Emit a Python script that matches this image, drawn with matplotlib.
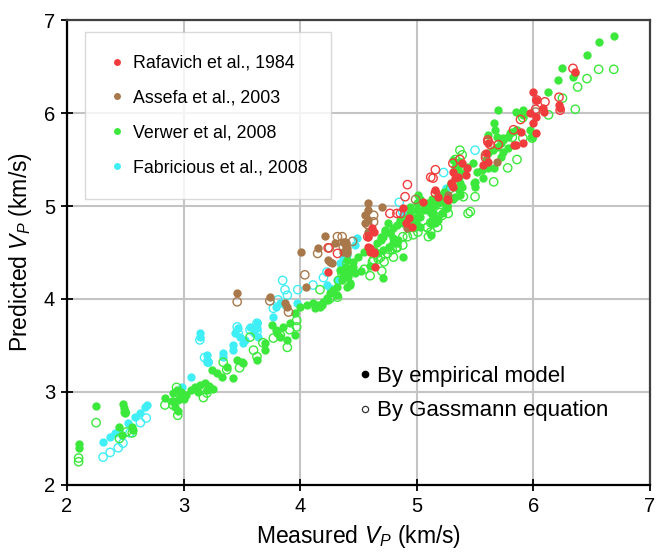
import matplotlib
matplotlib.use("Agg")
import matplotlib.pyplot as plt
from matplotlib.lines import Line2D

plt.rcParams['font.family'] = ['Liberation Sans', 'DejaVu Sans']
plt.rcParams['mathtext.fontset'] = 'custom'
plt.rcParams['mathtext.rm'] = 'Liberation Sans'
plt.rcParams['mathtext.it'] = 'Liberation Sans:italic'

# ---------------- data (Measured Vp, Predicted Vp) ----------------
# Verwer et al, 2008
verwer_emp_x = [2.25, 2.10, 2.10, 2.48, 2.49, 2.50, 2.45, 2.47, 2.56, 2.57, 2.84, 2.91, 2.94, 2.95, 2.97, 2.93, 2.95,
                2.98, 3.00, 3.02, 2.90, 3.06, 3.10, 3.14, 3.18, 3.22, 3.25, 3.12, 3.20,
                3.24, 3.29, 3.33, 3.37, 3.42, 3.46, 3.50, 3.51,
                3.63, 3.70, 3.70, 3.76, 3.79, 3.80, 3.83, 3.85, 3.89, 3.91, 3.96, 3.96,
                4.00, 4.06, 4.11, 4.15, 4.17, 4.23, 4.26, 4.28, 4.32, 4.13, 4.19, 4.20, 4.24, 4.32,
                4.34, 4.37, 4.41, 4.45, 4.43, 4.40, 4.40, 4.39, 4.41, 4.43, 4.36,
                4.45, 4.50, 4.55, 4.60, 4.52, 4.47,
                4.66, 4.69, 4.71, 4.67, 4.71, 4.76, 4.80, 4.84, 4.88, 4.71,
                4.75, 4.73, 4.77, 4.80, 4.83, 4.86, 4.88, 4.92, 4.94, 4.96, 4.99, 5.00, 5.05, 5.06, 5.10, 5.12, 5.16, 5.18,
                4.94, 5.00, 5.03, 5.09, 5.13, 5.18, 5.20, 5.14, 5.03, 4.97, 5.23, 5.16, 5.12,
                5.01, 5.03, 5.06, 5.09, 5.12, 5.14, 5.18, 5.20, 5.00, 4.97, 4.99, 5.12, 5.18, 5.22, 5.25, 5.26,
                4.73, 4.77, 4.80, 4.83, 4.76, 4.63, 4.69,
                5.31, 5.33, 5.36, 5.29,
                5.36, 5.37, 5.39, 5.40, 5.36, 5.37, 5.33, 5.31, 5.35, 5.36, 5.43, 5.48, 5.50, 5.52, 5.56, 5.59, 5.61,
                5.65, 5.69, 5.72, 5.74, 5.78, 5.80, 5.85, 5.57, 5.61, 5.66, 5.72, 5.74, 5.78, 5.83, 5.49, 5.50,
                6.69, 6.56, 6.46, 6.25, 6.21, 6.13, 5.70, 5.85, 5.91, 5.91, 5.66, 5.67, 5.61, 5.69, 5.74, 5.82, 5.86,
                5.97, 5.99, 6.36, 6.34]
verwer_emp_y = [2.85, 2.44, 2.40, 2.87, 2.83, 2.77, 2.62, 2.54, 2.62, 2.59, 2.94, 2.99, 3.02, 2.91, 2.95, 2.84, 2.80,
                3.00, 2.92, 2.97, 2.90, 3.02, 3.05, 3.08, 3.10, 3.06, 3.03, 3.00, 3.02,
                3.24, 3.20, 3.16, 3.27, 3.15, 3.34, 3.32, 3.31,
                3.34, 3.53, 3.45, 3.72, 3.67, 3.63, 3.59, 3.70, 3.56, 3.74, 3.61, 3.85,
                3.91, 3.94, 3.96, 3.94, 3.91, 4.01, 4.06, 4.10, 4.13, 3.90, 3.94, 3.97, 3.99, 4.04,
                4.31, 4.28, 4.28, 4.34, 4.17, 4.13, 4.42, 4.34, 4.24, 4.15, 4.20,
                4.40, 4.45, 4.50, 4.35, 4.30, 4.28,
                4.60, 4.63, 4.67, 4.49, 4.53, 4.56, 4.60, 4.63, 4.45, 4.23,
                4.82, 4.72, 4.71, 4.76, 4.80, 4.85, 4.82, 4.87, 4.92, 4.85, 4.82, 4.96, 4.96, 4.99, 5.03, 4.98, 5.01, 5.04,
                4.99, 5.03, 4.88, 4.96, 5.07, 5.12, 5.04, 4.93, 4.77, 4.82, 5.15, 4.83, 4.69,
                5.12, 5.07, 5.03, 4.98, 4.93, 4.88, 5.03, 5.10, 4.88, 4.83, 4.77, 4.83, 4.85, 4.93, 4.98, 5.01,
                4.74, 4.71, 4.66, 4.60, 4.56, 4.53, 4.67,
                5.50, 5.42, 5.35, 5.25,
                5.31, 5.25, 5.20, 5.36, 5.17, 5.12, 5.10, 5.07, 5.42, 5.47, 5.42, 5.46, 5.26, 5.37, 5.39, 5.50, 5.57,
                5.60, 5.63, 5.68, 5.71, 5.74, 5.78, 5.82, 5.30, 5.41, 5.41, 5.53, 5.58, 5.62, 5.66, 5.25, 5.20,
                6.83, 6.76, 6.62, 6.48, 6.36, 6.23, 6.03, 6.01, 6.03, 5.98, 5.89, 5.82, 5.76, 5.74, 5.73, 5.80, 5.82,
                5.82, 5.74, 6.43, 6.39]
verwer_gas_x = [2.25, 2.10, 2.10, 2.50, 2.45, 2.51, 2.56, 2.84, 2.91, 2.95, 2.94, 3.17, 3.20,
                3.34, 3.37, 3.48, 3.57, 3.60, 3.63, 3.68, 3.77, 3.83, 3.89, 3.91, 3.97, 3.97,
                4.17, 4.26, 4.32, 4.33, 4.40, 4.36, 4.55, 4.60, 4.72, 4.80, 4.70,
                4.62, 4.67, 4.77, 4.83, 4.88, 4.92, 4.96, 4.99, 5.09, 5.12, 5.10, 5.16, 5.18, 5.22, 5.44,
                4.97, 5.01, 5.09, 5.12, 5.16, 5.18, 5.26, 5.27,
                4.63, 4.69, 4.75, 4.79, 4.83, 4.88,
                5.37, 5.39, 5.33, 5.40, 5.46, 5.66, 5.78, 5.86, 5.50, 5.29, 5.14, 5.20,
                6.69, 6.56, 6.46, 6.38, 6.36, 6.25, 6.13, 5.91, 5.82, 5.91, 5.99]
verwer_gas_y = [2.67, 2.29, 2.25, 2.78, 2.50, 2.57, 2.56, 2.86, 2.86, 2.75, 3.05, 2.94, 2.99,
                3.32, 3.24, 3.26, 3.59, 3.45, 3.38, 3.53, 3.58, 3.61, 3.48, 3.67, 3.77, 3.70,
                4.10, 4.01, 4.02, 4.20, 4.38, 4.27, 4.32, 4.25, 4.40, 4.45, 4.30,
                4.40, 4.43, 4.53, 4.56, 4.67, 4.67, 4.77, 4.82, 4.77, 4.72, 4.67, 4.82, 4.88, 4.90, 4.92,
                4.69, 4.72, 4.77, 4.82, 4.83, 4.77, 4.98, 4.92,
                4.42, 4.45, 4.49, 4.53, 4.55, 4.58,
                5.60, 5.55, 5.50, 5.10, 4.94, 5.26, 5.41, 5.50, 5.10, 5.19, 4.82, 4.93,
                6.47, 6.47, 6.37, 6.28, 6.04, 6.16, 5.98, 5.95, 5.74, 5.73, 5.73]

# Fabricious et al., 2008
fabr_emp_x = [2.31, 2.37, 2.41, 2.45, 2.52, 2.58, 2.63, 2.67, 2.69, 2.99, 3.06, 3.14, 3.14, 3.20, 3.20, 3.21,
              3.34, 3.34, 3.42, 3.42, 3.44, 3.47, 3.48, 3.51, 3.53, 3.57, 3.60, 3.63, 3.63, 3.64,
              3.77, 3.79, 3.83, 3.87, 3.97, 4.23, 4.26, 4.32, 4.34, 4.47, 4.49, 5.25, 4.88, 4.37, 4.45]
fabr_emp_y = [2.46, 2.52, 2.56, 2.59, 2.67, 2.73, 2.77, 2.84, 2.86, 3.05, 3.16, 3.63, 3.59, 3.40, 3.34, 3.32,
              3.42, 3.38, 3.51, 3.45, 3.63, 3.69, 3.59, 3.53, 3.56, 3.70, 3.63, 3.74, 3.69, 3.59,
              3.81, 3.91, 3.96, 3.94, 3.96, 4.15, 4.12, 4.20, 4.39, 4.58, 4.66, 5.19, 4.90, 4.45, 4.31]
fabr_gas_x = [2.31, 2.37, 2.44, 2.48, 2.54, 2.63, 2.68, 3.14, 3.18, 3.21, 3.46, 3.47, 3.57, 3.63, 3.63,
              3.77, 3.81, 3.85, 3.87, 3.89, 3.98, 4.11, 4.20, 4.23, 4.40, 5.23, 5.50, 4.85, 4.88]
fabr_gas_y = [2.30, 2.35, 2.40, 2.45, 2.56, 2.67, 2.72, 3.56, 3.37, 3.32, 3.70, 3.63, 3.67, 3.74, 3.65,
              3.90, 3.99, 4.20, 4.10, 4.04, 4.10, 4.15, 4.23, 4.29, 4.47, 5.36, 5.60, 5.04, 4.94]

# Assefa et al., 2003
assefa_emp_x = [3.46, 3.74, 3.87, 3.89, 4.05, 4.01, 4.15, 4.21, 4.24, 4.26, 4.27, 4.58, 4.58, 4.56, 4.58, 4.56,
                4.58, 4.70, 4.37, 4.39, 4.37, 4.40, 4.39, 5.27, 5.69, 4.92, 4.40, 4.30]
assefa_emp_y = [4.06, 4.02, 3.96, 3.91, 4.13, 4.51, 4.55, 4.68, 4.42, 4.40, 4.39, 5.03, 4.96, 4.90, 4.85, 4.82,
                4.72, 4.99, 4.61, 4.56, 4.51, 4.49, 4.60, 5.12, 5.47, 4.76, 4.55, 4.60]
assefa_gas_x = [3.46, 3.74, 3.90, 4.04, 4.15, 4.32, 4.36, 4.39, 4.37, 4.40, 4.63, 4.63, 4.58, 4.99, 5.59, 6.02, 4.25, 4.45]
assefa_gas_y = [3.97, 3.98, 3.86, 4.26, 4.49, 4.67, 4.67, 4.60, 4.56, 4.51, 4.90, 4.83, 4.80, 5.07, 5.55, 6.01, 4.55, 4.62]

# Rafavich et al., 1984
raf_emp_x = [4.58, 4.63, 4.64, 4.60, 4.58, 4.62, 4.63, 4.60, 4.63, 5.26, 5.29, 5.31, 5.33, 5.31, 5.42, 5.43, 5.39,
             5.57, 5.61, 5.85, 5.91, 5.59, 5.16, 5.18, 5.05, 4.88, 4.96, 6.00, 6.02, 6.08, 6.09, 6.22, 6.23,
             5.97, 6.02, 6.00, 6.02, 5.89, 5.83, 5.61, 6.36, 4.24, 4.91, 4.93, 5.35, 5.30, 5.27]
raf_emp_y = [4.56, 4.49, 4.34, 4.51, 4.67, 4.76, 4.72, 4.55, 4.51, 5.07, 5.25, 5.20, 5.30, 5.37, 5.33, 5.41, 5.46,
             5.44, 5.47, 5.66, 5.68, 5.57, 5.17, 5.10, 5.04, 4.98, 4.77, 6.23, 6.14, 6.05, 6.01, 6.09, 6.05,
             6.00, 5.96, 5.89, 5.79, 5.80, 5.66, 5.68, 6.44, 4.29, 4.82, 4.87, 5.31, 5.23, 5.06]
raf_gas_x = [4.24, 4.32, 4.58, 4.77, 4.83, 4.86, 5.16, 5.14, 5.31, 5.37, 5.61, 5.59, 5.63, 4.92, 4.90,
             6.03, 6.10, 6.22, 6.23, 6.02, 5.89, 5.83, 5.61, 5.70, 6.34, 5.12, 5.16]
raf_gas_y = [4.55, 4.49, 4.67, 4.92, 4.92, 4.92, 5.39, 5.30, 5.46, 5.50, 5.69, 5.52, 5.66, 5.23, 5.10,
             6.14, 6.12, 6.17, 6.03, 6.04, 5.93, 5.82, 5.71, 5.66, 6.48, 5.31, 5.14]

legend_labels = ["Rafavich et al., 1984", "Assefa et al., 2003", "Verwer et al, 2008", "Fabricious et al., 2008"]
ticks = [2, 3, 4, 5, 6, 7]

# ---------------- style ----------------
c_red = '#f03c3c'
c_brown = '#a8784a'
c_green = '#3de83d'
c_cyan = '#40eef6'
ms = 36

fig = plt.figure(figsize=(6.67, 5.53), dpi=100)
ax = fig.add_axes([0.1004, 0.123, 0.874, 0.8408])

series = [
    (fabr_emp_x, fabr_emp_y, fabr_gas_x, fabr_gas_y, c_cyan),
    (verwer_emp_x, verwer_emp_y, verwer_gas_x, verwer_gas_y, c_green),
    (assefa_emp_x, assefa_emp_y, assefa_gas_x, assefa_gas_y, c_brown),
    (raf_emp_x, raf_emp_y, raf_gas_x, raf_gas_y, c_red),
]
for ex, ey, gx, gy, col in series:
    ax.scatter(gx, gy, s=ms, facecolors='none', edgecolors=col, linewidths=1.0, zorder=3)
    ax.scatter(ex, ey, s=ms, color=col, linewidths=0, zorder=3)

ax.set_xlim(2, 7)
ax.set_ylim(2, 7)
ax.set_xticks(ticks)
ax.set_yticks(ticks)
ax.tick_params(direction='inout', length=9, width=1.3, labelsize=14.5, pad=4)
ax.grid(True, color='#c4c4c4', linewidth=1.5, zorder=0)
ax.set_axisbelow(True)
for s in ['left', 'bottom']:
    ax.spines[s].set_color('black')
    ax.spines[s].set_linewidth(1.6)
for s in ['top', 'right']:
    ax.spines[s].set_color('#404040')
    ax.spines[s].set_linewidth(1.6)

ax.set_xlabel(r'Measured $V_P$ (km/s)', fontsize=16.5, labelpad=5)
ax.set_ylabel(r'Predicted $V_P$ (km/s)', fontsize=16.5, labelpad=7)

# dataset legend
cols = [c_red, c_brown, c_green, c_cyan]
handles = [Line2D([], [], marker='o', linestyle='none', markersize=5, markerfacecolor=c,
                  markeredgecolor='none') for c in cols]
leg1 = ax.legend(handles, legend_labels, loc='upper left', bbox_to_anchor=(0.031, 0.975),
                 fontsize=12.8, frameon=True, fancybox=False, edgecolor='#d0d0d0',
                 handletextpad=0.4, labelspacing=1.0, borderpad=1.3, handlelength=1.0,
                 borderaxespad=0)
leg1.get_frame().set_linewidth(1.0)
ax.add_artist(leg1)

# model legend
h2 = [Line2D([], [], marker='o', linestyle='none', markersize=4.5, markerfacecolor='black',
             markeredgecolor='black'),
      Line2D([], [], marker='o', linestyle='none', markersize=4.5, markerfacecolor='none',
             markeredgecolor='#333333', markeredgewidth=0.9)]
ax.legend(h2, ['By empirical model', 'By Gassmann equation'], loc='upper left',
          bbox_to_anchor=(0.481, 0.275), frameon=False, fontsize=16, handletextpad=0.15,
          labelspacing=0.6, handlelength=0.8, borderaxespad=0)

fig.savefig('out.png', dpi=100)
